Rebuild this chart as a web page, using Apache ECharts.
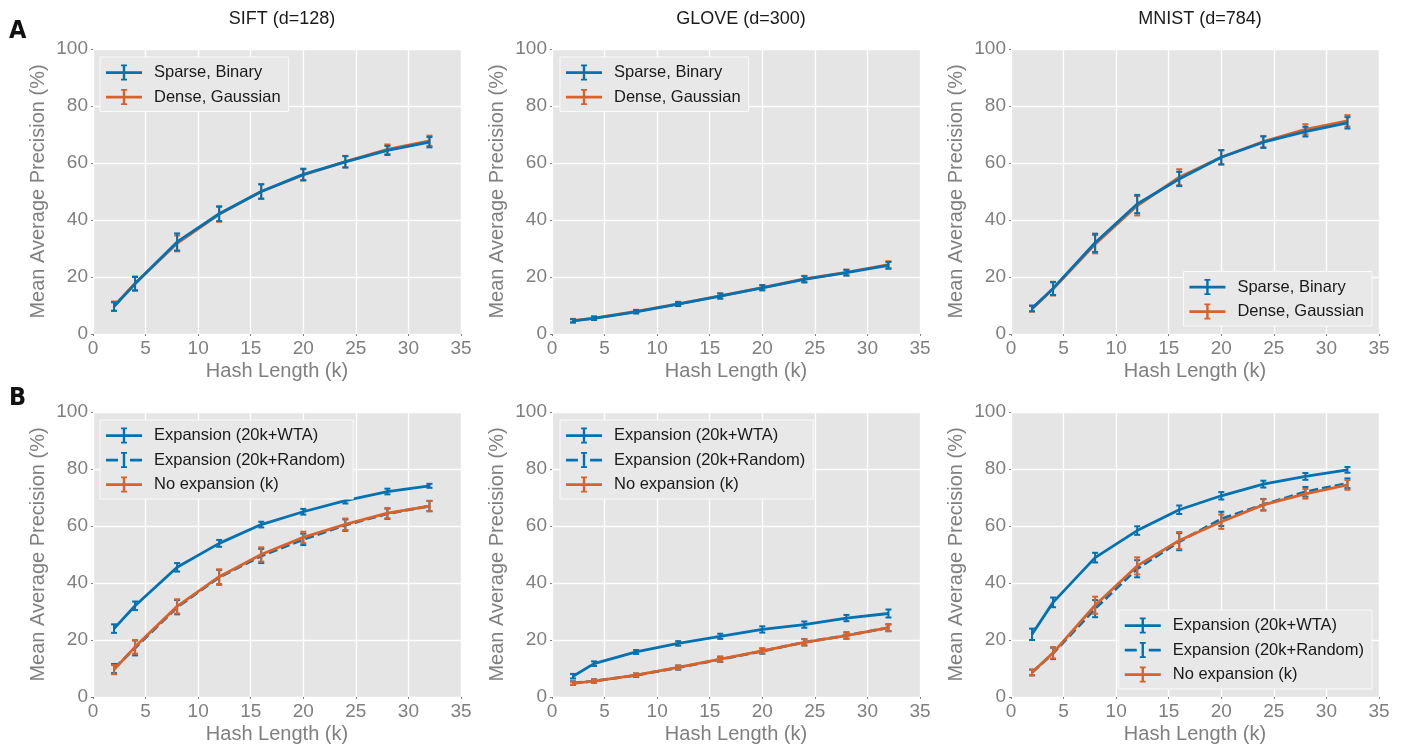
<!DOCTYPE html>
<html>
<head>
<meta charset="utf-8">
<script src="https://cdn.jsdelivr.net/npm/echarts@6/dist/echarts.min.js"></script>
<style>
html,body{margin:0;padding:0;background:#fff;}
#chart{width:1406px;height:747px;}
</style>
</head>
<body>
<div id="chart"></div>
<script>
// ---------- data ----------
const hashLengths = [2, 4, 8, 12, 16, 20, 24, 28, 32];
const panelTitles = ['SIFT (d=128)', 'GLOVE (d=300)', 'MNIST (d=784)'];
const xTicks = [0, 5, 10, 15, 20, 25, 30, 35];
const yTicks = [0, 20, 40, 60, 80, 100];

// Panel A
const siftSparse    = [9.6, 17.6, 32.3, 42.2, 50.0, 56.0, 60.4, 64.4, 67.3];
const siftSparseErr = [1.5, 2.4, 3.0, 2.6, 2.5, 2.0, 2.0, 1.6, 1.8];
const siftDense     = [9.8, 17.8, 31.8, 42.0, 50.0, 55.8, 60.5, 64.8, 67.8];
const siftDenseErr  = [1.6, 2.4, 2.8, 2.6, 2.6, 2.0, 2.0, 1.7, 1.8];
const gloveSparse    = [4.6, 5.5, 7.8, 10.5, 13.3, 16.2, 19.2, 21.5, 24.1];
const gloveSparseErr = [0.6, 0.6, 0.6, 0.7, 0.9, 0.9, 1.1, 1.0, 1.2];
const gloveDense     = [4.7, 5.6, 7.9, 10.6, 13.4, 16.3, 19.3, 21.6, 24.3];
const gloveDenseErr  = [0.6, 0.6, 0.6, 0.7, 0.9, 0.9, 1.1, 1.0, 1.2];
const mnistSparse    = [9.0, 16.0, 32.0, 45.6, 54.4, 62.0, 67.3, 71.0, 74.1];
const mnistSparseErr = [1.0, 2.3, 3.2, 3.2, 2.5, 2.5, 2.0, 1.7, 2.0];
const mnistDense     = [8.8, 15.8, 31.5, 45.0, 55.0, 62.0, 67.5, 71.8, 74.8];
const mnistDenseErr  = [1.0, 2.3, 3.2, 3.4, 2.8, 2.5, 2.0, 1.8, 2.0];

// Panel B
const siftWTA       = [24.0, 32.0, 45.5, 53.9, 60.5, 65.0, 68.9, 72.1, 74.1];
const siftWTAErr    = [1.5, 1.5, 1.5, 1.2, 1.0, 1.0, 1.0, 1.0, 0.7];
const siftRandom    = [10.0, 17.2, 31.5, 42.0, 49.5, 55.3, 60.3, 64.3, 67.0];
const siftRandomErr = [1.6, 2.6, 2.5, 2.6, 2.5, 2.0, 2.0, 1.8, 1.8];
const siftNoExp     = [9.6, 17.6, 31.8, 42.2, 50.0, 56.0, 60.6, 64.5, 67.0];
const siftNoExpErr  = [1.6, 2.4, 2.5, 2.6, 2.5, 2.0, 2.0, 1.8, 1.8];
const gloveWTA       = [7.3, 11.7, 15.8, 18.8, 21.3, 23.7, 25.4, 27.7, 29.3];
const gloveWTAErr    = [0.8, 0.8, 0.7, 0.8, 0.9, 1.1, 1.1, 1.1, 1.4];
const gloveRandom    = [4.9, 5.6, 7.6, 10.3, 13.2, 16.1, 19.2, 21.6, 24.3];
const gloveRandomErr = [0.6, 0.6, 0.6, 0.7, 0.9, 0.9, 1.1, 1.1, 1.2];
const gloveNoExp     = [4.8, 5.6, 7.7, 10.4, 13.3, 16.2, 19.2, 21.5, 24.3];
const gloveNoExpErr  = [0.6, 0.6, 0.6, 0.7, 0.9, 0.9, 1.1, 1.1, 1.2];
const mnistWTA       = [22.0, 33.2, 48.9, 58.4, 65.7, 70.6, 74.7, 77.4, 79.7];
const mnistWTAErr    = [2.0, 1.7, 1.7, 1.5, 1.5, 1.3, 1.2, 1.2, 1.0];
const mnistRandom    = [8.6, 15.3, 31.0, 45.0, 54.5, 62.5, 67.5, 72.0, 75.0];
const mnistRandomErr = [1.0, 2.0, 3.0, 3.0, 3.0, 2.5, 2.0, 1.7, 1.7];
const mnistNoExp     = [8.6, 15.5, 32.2, 46.0, 54.9, 61.5, 67.4, 71.3, 74.4];
const mnistNoExpErr  = [1.0, 2.0, 3.0, 3.0, 3.0, 2.5, 2.0, 1.7, 1.7];

// ---------- styling ----------
const BLUE = '#0072B2';
const ORANGE = '#D9622B';
const GRAY = '#7f7f7f';
const FONT = 'Liberation Sans, Arial, sans-serif';

const gridLefts = [93, 552, 1011];
const gridTops = [49, 412];
const gridW = 368, gridH = 285;

const iconSolid = 'path://M0,6.8L36,6.8L36,9.6L0,9.6Z M16.8,1.2L19.2,1.2L19.2,14.8L16.8,14.8Z M15,0L21,0L21,1.8L15,1.8Z M15,14.2L21,14.2L21,16L15,16Z';
const iconDashed = 'path://M0,6.8L12,6.8L12,9.6L0,9.6Z M24,6.8L36,6.8L36,9.6L24,9.6Z M16.8,1.2L19.2,1.2L19.2,14.8L16.8,14.8Z M15,0L21,0L21,1.8L15,1.8Z M15,14.2L21,14.2L21,16L15,16Z';

const grids = [], xAxes = [], yAxes = [], series = [], legends = [], titles = [];
for (let r = 0; r < 2; r++) {
  for (let c = 0; c < 3; c++) {
    grids.push({left: gridLefts[c], top: gridTops[r], width: gridW, height: gridH,
      show: true, backgroundColor: '#E5E5E5', borderWidth: 0});
    const idx = grids.length - 1;
    xAxes.push({type: 'value', gridIndex: idx, min: 0, max: 35, interval: 5,
      name: 'Hash Length (k)', nameLocation: 'middle', nameGap: 27,
      nameTextStyle: {color: GRAY, fontSize: 20, fontFamily: FONT},
      axisLine: {show: false},
      axisTick: {show: true, length: 2, lineStyle: {color: GRAY}},
      axisLabel: {color: GRAY, fontSize: 19, fontFamily: FONT, margin: 5,
        formatter: v => xTicks.includes(v) ? String(v) : ''},
      splitLine: {show: true, lineStyle: {color: '#ffffff', width: 1.3}}});
    yAxes.push({type: 'value', gridIndex: idx, min: 0, max: 100, interval: 20,
      name: 'Mean Average Precision (%)', nameLocation: 'middle', nameGap: 45,
      nameTextStyle: {color: GRAY, fontSize: 20, fontFamily: FONT},
      axisLine: {show: false},
      axisTick: {show: true, length: 2, lineStyle: {color: GRAY}},
      axisLabel: {color: GRAY, fontSize: 19, fontFamily: FONT, margin: 5,
        formatter: v => yTicks.includes(v) ? String(v) : ''},
      splitLine: {show: true, lineStyle: {color: '#ffffff', width: 1.3}}});
  }
}
panelTitles.forEach((t, c) => {
  titles.push({text: t, left: gridLefts[c] + gridW / 2, top: 5, textAlign: 'center',
    textStyle: {fontSize: 18, fontWeight: 'normal', color: '#1a1a1a', fontFamily: FONT}});
});

function addSeries(idx, name, vals, errs, color, dashed, z) {
  series.push({type: 'line', name: name, xAxisIndex: idx, yAxisIndex: idx,
    data: hashLengths.map((x, i) => [x, vals[i]]),
    showSymbol: false, symbol: 'none', smooth: false, z: z,
    lineStyle: {color: color, width: 2.8, type: dashed ? [9, 4] : 'solid'},
    itemStyle: {color: color}, silent: true});
  series.push({type: 'custom', name: name + ' err', xAxisIndex: idx, yAxisIndex: idx, z: z,
    data: hashLengths.map((x, i) => [x, vals[i] - errs[i], vals[i] + errs[i]]),
    renderItem: function (params, api) {
      const x = api.value(0);
      const p1 = api.coord([x, api.value(1)]);
      const p2 = api.coord([x, api.value(2)]);
      const cw = 3;
      const st = {stroke: color, lineWidth: 2};
      return {type: 'group', children: [
        {type: 'line', shape: {x1: p1[0], y1: p1[1], x2: p2[0], y2: p2[1]}, style: st},
        {type: 'line', shape: {x1: p1[0] - cw, y1: p1[1], x2: p1[0] + cw, y2: p1[1]}, style: st},
        {type: 'line', shape: {x1: p2[0] - cw, y1: p2[1], x2: p2[0] + cw, y2: p2[1]}, style: st}
      ]};
    }, silent: true});
}

// Panel A
addSeries(0, 'Dense, Gaussian', siftDense, siftDenseErr, ORANGE, false, 2);
addSeries(0, 'Sparse, Binary', siftSparse, siftSparseErr, BLUE, false, 3);
addSeries(1, 'Dense, Gaussian', gloveDense, gloveDenseErr, ORANGE, false, 2);
addSeries(1, 'Sparse, Binary', gloveSparse, gloveSparseErr, BLUE, false, 3);
addSeries(2, 'Dense, Gaussian', mnistDense, mnistDenseErr, ORANGE, false, 2);
addSeries(2, 'Sparse, Binary', mnistSparse, mnistSparseErr, BLUE, false, 3);
// Panel B
addSeries(3, 'Expansion (20k+WTA)', siftWTA, siftWTAErr, BLUE, false, 2);
addSeries(3, 'Expansion (20k+Random)', siftRandom, siftRandomErr, BLUE, true, 2);
addSeries(3, 'No expansion (k)', siftNoExp, siftNoExpErr, ORANGE, false, 3);
addSeries(4, 'Expansion (20k+WTA)', gloveWTA, gloveWTAErr, BLUE, false, 2);
addSeries(4, 'Expansion (20k+Random)', gloveRandom, gloveRandomErr, BLUE, true, 2);
addSeries(4, 'No expansion (k)', gloveNoExp, gloveNoExpErr, ORANGE, false, 3);
addSeries(5, 'Expansion (20k+WTA)', mnistWTA, mnistWTAErr, BLUE, false, 2);
addSeries(5, 'Expansion (20k+Random)', mnistRandom, mnistRandomErr, BLUE, true, 2);
addSeries(5, 'No expansion (k)', mnistNoExp, mnistNoExpErr, ORANGE, false, 3);

const legendBase = {orient: 'vertical', itemWidth: 36, itemHeight: 16, itemGap: 7.5,
  padding: [7, 8, 6, 6], backgroundColor: '#E8E8E8', borderColor: '#FAFAFA', borderWidth: 1,
  selectedMode: false,
  textStyle: {fontSize: 16.5, color: '#1a1a1a', fontFamily: FONT, padding: [0, 0, 0, 7]}};
const legA = [{name: 'Sparse, Binary', icon: iconSolid}, {name: 'Dense, Gaussian', icon: iconSolid}];
const legB = [{name: 'Expansion (20k+WTA)', icon: iconSolid},
  {name: 'Expansion (20k+Random)', icon: iconDashed},
  {name: 'No expansion (k)', icon: iconSolid}];
legends.push(Object.assign({}, legendBase, {left: 100, top: 57, data: legA}));
legends.push(Object.assign({}, legendBase, {left: 560, top: 57, data: legA}));
legends.push(Object.assign({}, legendBase, {right: 34, bottom: 421, data: legA}));
legends.push(Object.assign({}, legendBase, {left: 100, top: 420, data: legB}));
legends.push(Object.assign({}, legendBase, {left: 560, top: 420, data: legB}));
legends.push(Object.assign({}, legendBase, {right: 34, bottom: 58, data: legB}));

const chart = echarts.init(document.getElementById('chart'), null, {renderer: 'canvas'});
chart.setOption({
  backgroundColor: '#ffffff',
  animation: false,
  title: titles,
  grid: grids,
  xAxis: xAxes,
  yAxis: yAxes,
  legend: legends,
  series: series,
  graphic: [
    {type: 'text', left: 9, top: 19, style: {text: 'A', fontSize: 25, fontWeight: 'bold',
      fontFamily: 'Liberation Sans Narrow, DejaVu Sans Condensed, sans-serif', fill: '#111'}},
    {type: 'text', left: 9, top: 386, style: {text: 'B', fontSize: 25, fontWeight: 'bold',
      fontFamily: 'Liberation Sans Narrow, DejaVu Sans Condensed, sans-serif', fill: '#111'}}
  ]
});
</script>
</body>
</html>
